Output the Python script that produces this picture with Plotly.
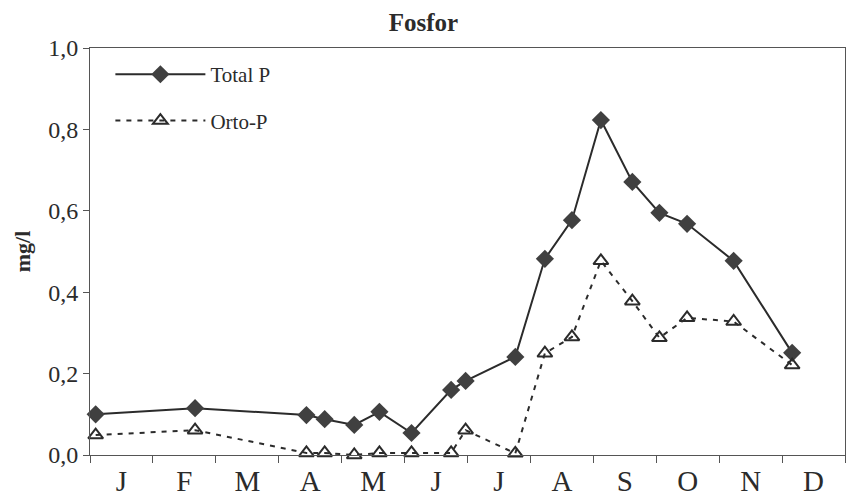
import plotly.graph_objects as go

# sampling positions in month units (0 = start of January, 12 = end of December)
sample_pos = [0.09, 1.67, 3.44, 3.73, 4.2, 4.6, 5.11, 5.74, 5.97, 6.76, 7.23, 7.66,
              8.12, 8.62, 9.05, 9.49, 10.23, 11.16]
total_p = [0.100, 0.115, 0.098, 0.088, 0.074, 0.106, 0.054, 0.160, 0.182, 0.241,
           0.482, 0.577, 0.823, 0.671, 0.595, 0.568, 0.477, 0.251]
orto_p = [0.049, 0.061, 0.005, 0.005, 0.0, 0.005, 0.005, 0.005, 0.061, 0.004,
          0.250, 0.290, 0.477, 0.378, 0.288, 0.337, 0.328, 0.221]

month_labels = ["J", "F", "M", "A", "M", "J", "J", "A", "S", "O", "N", "D"]
month_centers = [i + 0.5 for i in range(12)]
month_bounds = list(range(13))
y_ticks = [0.0, 0.2, 0.4, 0.6, 0.8, 1.0]
y_ticklabels = ["0,0", "0,2", "0,4", "0,6", "0,8", "1,0"]

SERIF = "Liberation Serif"
INK = "#2b2b2b"

fig = go.Figure()
fig.add_trace(go.Scatter(
    x=sample_pos, y=total_p, name="Total P", mode="lines+markers",
    line=dict(color=INK, width=2),
    marker=dict(symbol="diamond", size=14, color="#404040", line=dict(width=0)),
    cliponaxis=False, legendgroup="a"))
fig.add_trace(go.Scatter(
    x=sample_pos, y=orto_p, name="Orto-P", mode="lines+markers",
    line=dict(color=INK, width=2, dash="5px,6px"),
    marker=dict(symbol="triangle-up-open", size=13, color=INK, line=dict(width=2)),
    cliponaxis=False, legendgroup="b"))

axis_line = dict(showline=True, linecolor="#555", linewidth=1, showgrid=False, zeroline=False)

fig.update_layout(
    width=847, height=502,
    margin=dict(l=90, r=2, t=48, b=47),
    paper_bgcolor="white", plot_bgcolor="white",
    font=dict(family=SERIF, color=INK),
    title=dict(text="<b>Fosfor</b>", x=0.5, xref="container", xanchor="center",
               y=0.955, yref="container", yanchor="middle",
               font=dict(family=SERIF, size=25, color=INK)),
    showlegend=True,
    legend=dict(x=0.027, y=0.985, xanchor="left", yanchor="top",
                bgcolor="rgba(0,0,0,0)", font=dict(family=SERIF, size=21, color=INK),
                itemwidth=90, tracegroupgap=16, traceorder="grouped"),
    xaxis=dict(range=[0, 12], tickmode="array", tickvals=month_centers, ticktext=month_labels,
               ticks="", tickfont=dict(family=SERIF, size=29, color=INK),
               minor=dict(tickmode="array", tickvals=month_bounds, ticks="outside",
                          ticklen=7, tickwidth=1, tickcolor="#555"),
               mirror=True, **axis_line),
    xaxis2=dict(range=[0, 12], overlaying="x", anchor="y", side="bottom",
                tickmode="array", tickvals=month_bounds, ticks="inside", ticklen=7,
                tickwidth=1, tickcolor="#555", showticklabels=False,
                showline=False, showgrid=False, zeroline=False),
    yaxis=dict(range=[0, 1], tickmode="array", tickvals=y_ticks, ticktext=y_ticklabels,
               ticks="outside", ticklen=6, tickwidth=1, tickcolor="#555",
               tickfont=dict(family=SERIF, size=24, color=INK),
               title=dict(text="<b>mg/l</b>", font=dict(family=SERIF, size=22, color=INK),
                          standoff=11),
               mirror=True, **axis_line),
    yaxis2=dict(range=[0, 1], overlaying="y", anchor="x", side="left",
                tickmode="array", tickvals=y_ticks, ticks="inside", ticklen=6,
                tickwidth=1, tickcolor="#555", showticklabels=False,
                showline=False, showgrid=False, zeroline=False),
)

fig.write_html("out.html", config={"displayModeBar": False},
               post_script="document.body.style.margin='0';document.body.style.overflow='hidden';")
